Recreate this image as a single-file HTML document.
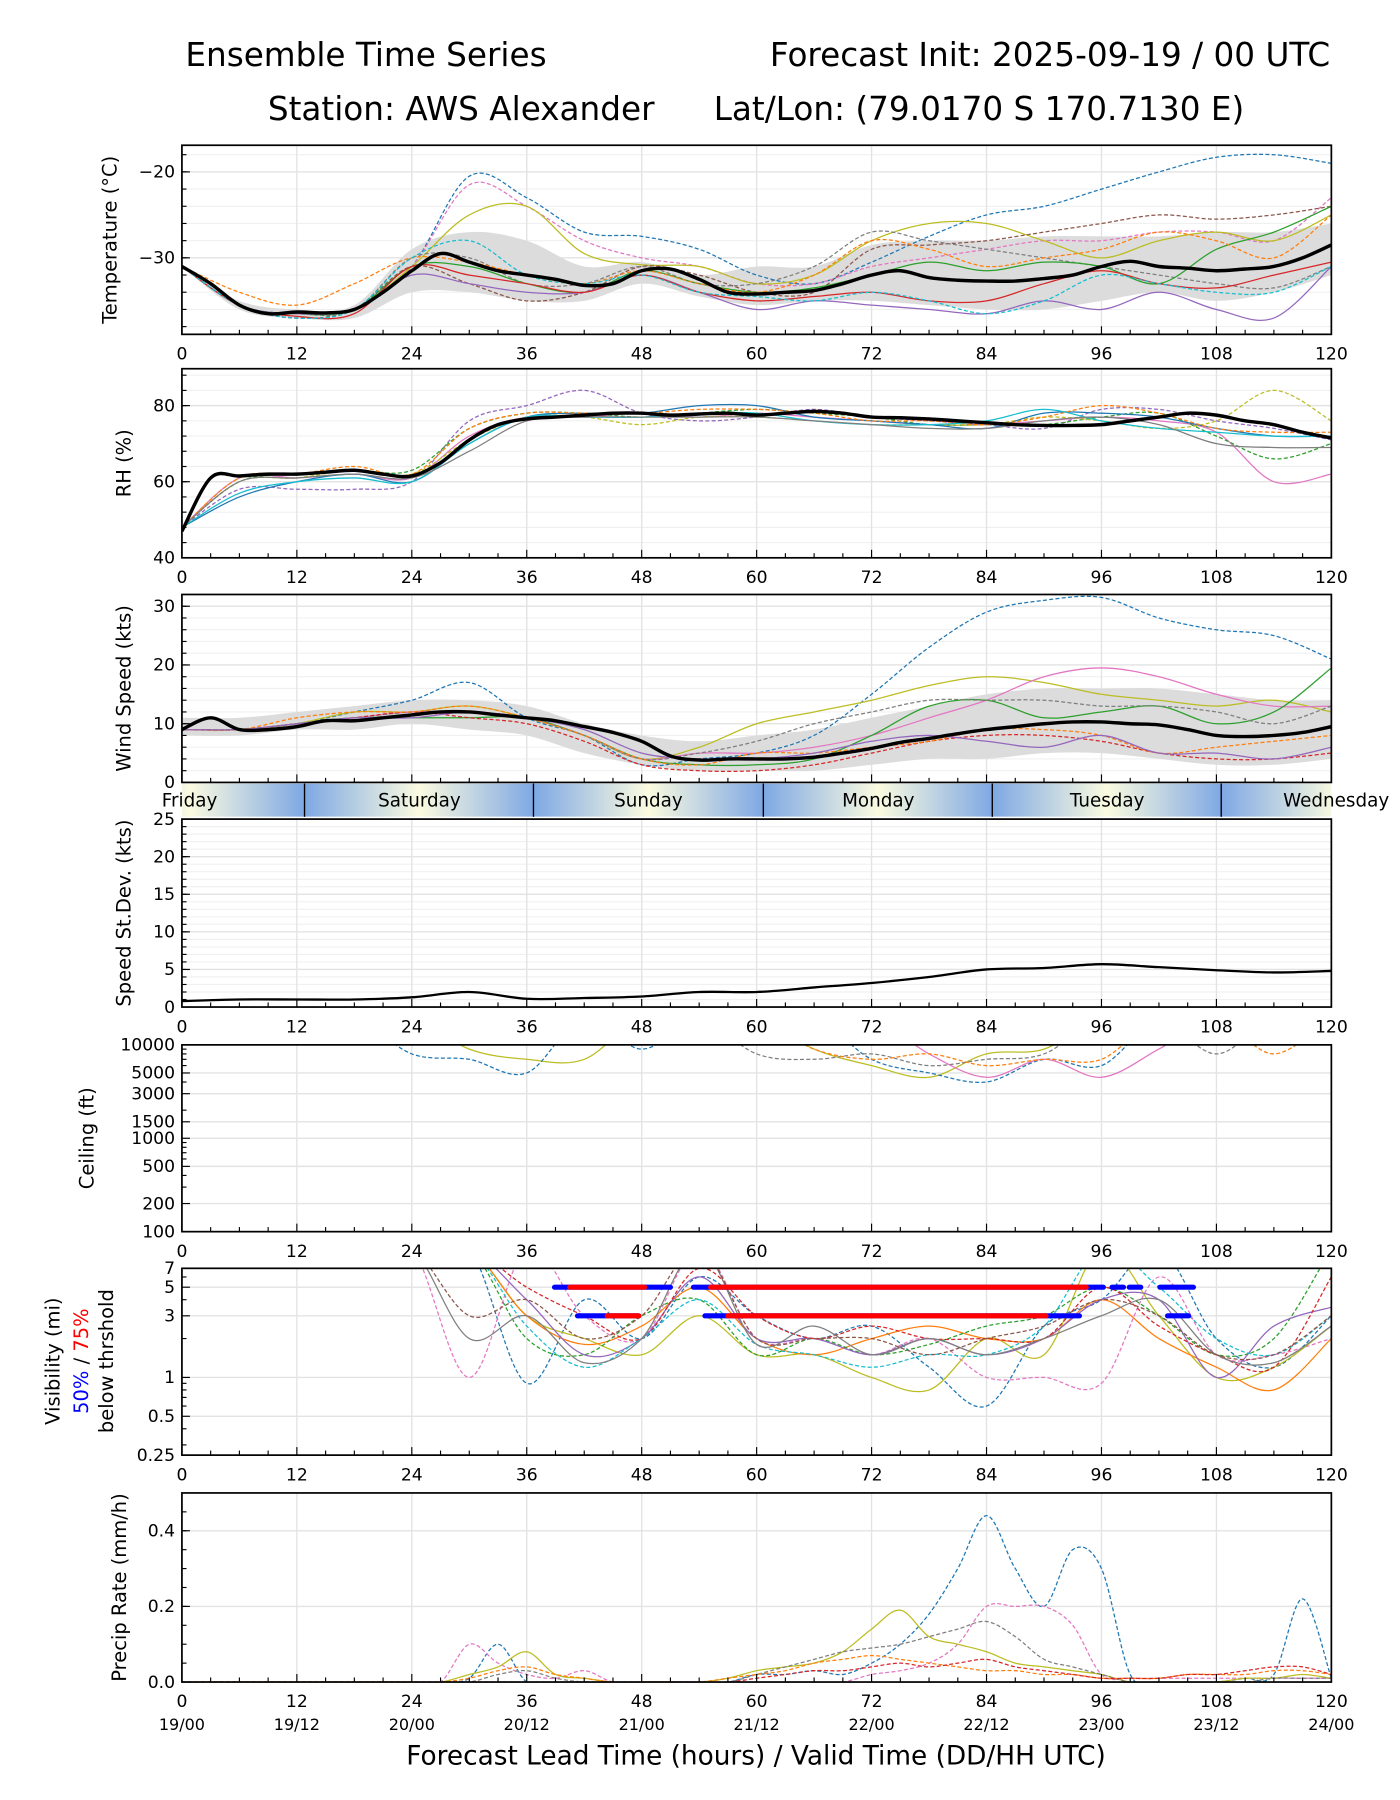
<!DOCTYPE html>
<html><head><meta charset="utf-8"><style>
html,body{margin:0;padding:0;background:#fff;}
svg{display:block;font-family:"DejaVu Sans","Liberation Sans",sans-serif;}
</style></head><body>
<svg id="chart" width="1400" height="1800" viewBox="0 0 1400 1800" xmlns="http://www.w3.org/2000/svg">
<defs>
<linearGradient id="dayg" x1="0" x2="1" y1="0" y2="0">
<stop offset="0" stop-color="#7ea8e4"/><stop offset="0.5" stop-color="#fbfbe0"/><stop offset="1" stop-color="#7ea8e4"/>
</linearGradient>
</defs>
<g id="root" transform="translate(2,2) scale(1.146)"></g>
</svg>
<script>
// ---------- DATA ----------
const hours3 = Array.from({length:41},(_,i)=>i*3);
const hours6 = Array.from({length:21},(_,i)=>i*6);
const xTicks = [0,12,24,36,48,60,72,84,96,108,120];
const dateLabels = ["19/00","19/12","20/00","20/12","21/00","21/12","22/00","22/12","23/00","23/12","24/00"];
const dayNames = ["Friday","Saturday","Sunday","Monday","Tuesday","Wednesday"];
const dayBoundaries = [12.8,36.7,60.7,84.6,108.5];

const tempMean = [-31,-33,-35.5,-36.5,-36.3,-36.4,-36,-34,-31.5,-29.5,-30.5,-31.5,-32,-32.5,-33.2,-33,-31.5,-31.3,-32.5,-34,-34.2,-34,-33.8,-33,-32,-31.5,-32.3,-32.6,-32.7,-32.7,-32.4,-32,-31,-30.4,-31,-31.2,-31.5,-31.3,-31,-30,-28.5];
const tempHi = [-31,-35,-36,-35.5,-29,-27,-28,-31,-30.5,-32,-31,-31,-28.5,-28,-28,-27.5,-27.5,-27.5,-27,-27,-26];
const tempLo = [-31,-36,-37,-37,-34,-34,-35,-35,-33,-34.5,-35.5,-35,-35,-35.5,-36,-36,-35,-34,-35,-34,-32];
const tempBlue = [-31,-35.5,-37,-36,-31,-20.5,-23,-27,-27.5,-29,-32,-33,-30.5,-27.5,-25,-24,-22,-20,-18.3,-18,-19];
const tempPink = [-31,-35.5,-37,-36,-31,-21.5,-24,-28,-30,-31,-33,-33,-31,-30,-29,-28,-28,-27,-27,-28,-23];
const tempOlive = [-31,-35.5,-36.5,-36,-31,-25,-24,-29.5,-30.8,-31,-33,-32,-28,-26,-26,-28,-30,-28,-27,-28,-25];
const tempBrown = [-31,-35.5,-37,-36,-31,-33,-35,-34,-31,-32,-34,-34,-29,-28.5,-28,-27,-26,-25,-25.5,-25,-24];
const tempGray = [-31,-35.5,-36.5,-36,-30,-30,-33,-33,-31,-33,-33,-31,-27,-28,-29,-30,-31,-32,-33,-33.5,-31];
const tempGreen = [-31,-35.5,-36.5,-36,-31,-31,-33,-34,-31.5,-33,-34,-33.5,-32,-30.5,-31.5,-30.5,-31,-33,-29,-27,-24];
const tempPurple = [-31,-35.5,-36.5,-36,-32,-33,-34,-34,-32,-34,-36,-35,-35.5,-36,-36.5,-35,-36,-34,-36,-37,-31];
const tempRed = [-31,-35.5,-36.8,-36.5,-31,-32,-33,-34,-32,-34,-35,-34.5,-34,-35,-35,-33,-31.5,-33,-33.5,-32,-30.5];
const tempOrange = [-31,-34,-35.5,-33,-30,-30.5,-32,-33,-31.5,-33,-34,-32,-28,-29,-31,-30,-29,-27,-28,-30,-25];
const tempCyan = [-31,-35.5,-37,-36,-30,-28,-32,-33,-32,-34,-34.5,-35,-34,-35,-36.5,-35,-32,-33,-34,-34,-31];

const rhMean = [47,61,61.5,62,62,62.5,63,62,61.5,65,71,75,76.5,77,77.5,78,78,77.5,77.8,78,77.5,78,78.5,78,77,76.8,76.5,76,75.5,75,74.8,74.8,75,76,77,78,77.5,76,75,73,71.5];
const rhPink = [48,61,61,62,61,72,77,77,78,77,78,77,76,75,75,76,77,76,73,60,62];
const rhPurple = [48,58,58,58,60,76,80,84,78,76,77,79,77,76,75,74,79,79,76,74,71];
const rhGreen = [48,60,62,63,63,74,78,78,77,78,79,78,77,75,75,75,77,78,72,66,70];
const rhOlive = [48,60,61,63,62,71,77,77,75,77,77,76,75,75,75,77,76,74,76,84,76];
const rhBlue = [48,56,60,62,60,70,77,78,78,80,80,77,76,75,74,78,78,77,74,72,72];
const rhOrange = [48,61,62,64,62,74,78,78,78,79,79,78,76,76,75,77,80,78,74,73,73];
const rhCyan = [48,57,60,61,60,70,77,77,77,78,78,76,75,75,76,79,76,74,73,72,72];
const rhGray = [48,60,61,62,61,68,76,77,77,77,77,76,75,74,74,76,77,75,70,69,69];

const windMean = [9,11,9,9,9.5,10.5,10.5,11,11.5,12,12,11.5,11,10.5,9.5,8.5,7,4.5,3.8,4,4,4,4.3,5,5.8,6.8,7.5,8.3,9,9.5,10,10.3,10.3,10,9.8,9,8,7.8,8,8.5,9.5];
const windHi = [11,11,12,13,14,14,13,10,8,7,8,9,11,13,15,16,16,16,15,14,14];
const windLo = [8,8,9,9,10,9,8,5,3,2,2,2,3,4,4,5,5,4,3,3,4];
const windBlue = [9,9,10,12,14,17,11,8,3,4,5,8,15,23,29,31,31.5,28,26,25,21];
const windOlive = [9,9,10,12,12,13,11,8,4,6,10,12,14,16.5,18,17,15,14,13,14,12];
const windPink = [9,9,10,11,12,12,11,8,4,5,5,6,8,11,14,18,19.5,18,15,13,13];
const windGreen = [9,9,10,11,11,11,11,8,4,3,3,4,8,13,14,11,12,13,10,12,19.5];
const windGray = [9,9,10,11,12,12,11,8,4,5,7,10,12,14,14,14,13,13,12,10,13];
const windRed = [9,9,10,11,12,11,10,7,3,2,2,3,5,7,8,8,7,5,4,4,5];
const windOrange = [9,9,11,12,12,13,11,8,4,3,5,5,6,7,9,9,8,5,6,7,8];
const windPurple = [9,9,10,11,11,12,11,9,5,4,4,5,7,8,7,6,8,5,5,4,6];

const stdDev = [0.8,1.0,1.0,1.0,1.3,2.0,1.1,1.2,1.4,2.0,2.0,2.6,3.2,4.0,5.0,5.2,5.7,5.3,4.9,4.6,4.8];

const ceilOlive = [20000,20000,20000,20000,20000,9000,7000,7000,20000,20000,20000,9000,6000,4500,8000,9000,20000,20000,20000,20000,20000];
const ceilBlue = [20000,20000,20000,20000,8000,7000,5000,20000,9000,20000,20000,20000,7000,5000,4000,7000,6000,20000,20000,20000,20000];
const ceilGray = [20000,20000,20000,20000,20000,20000,20000,20000,20000,20000,8000,7000,8000,6000,7000,8000,20000,20000,8000,20000,20000];
const ceilPink = [20000,20000,20000,20000,20000,20000,20000,20000,20000,20000,20000,20000,20000,8000,4500,7000,4500,9000,20000,20000,20000];
const ceilOrange = [20000,20000,20000,20000,20000,20000,20000,20000,20000,20000,20000,9000,7000,8000,6000,7000,7000,20000,20000,8000,20000];

const visBlue = [10,10,10,10,10,10,0.9,4,2,6,3,2,2.5,1.2,0.6,2.5,4,10,2,1.2,3];
const visPink = [10,10,10,10,10,1,10,3,2,10,2,2,1.5,2,1,1,0.9,6,1.5,1.5,2];
const visOlive = [10,10,10,10,10,10,3,2,1.5,3,1.5,1.5,1,0.8,2,1.5,10,3,1,1.2,2.5];
const visOrange = [10,10,10,10,10,10,3,1.8,2.5,5,2,1.5,2,2.5,2,2,4,2,1.2,0.8,2];
const visGreen = [10,10,10,10,10,10,2,1.5,3,4,1.5,2,1.5,1.8,2.5,3,5,3,1.5,2,10];
const visPurple = [10,10,10,10,10,10,4,1.5,2,6,2,2,1.5,2,1.5,2,4,4,1,2.5,3.5];
const visRed = [10,10,10,10,10,10,5,3,2,7,3,2,2.5,2,2,2,5,2.5,1.5,1.2,6];
const visCyan = [10,10,10,10,10,10,2.5,1.2,2,4,1.8,1.5,1.2,1.5,1.5,2.5,10,5,2,1.5,3];
const visGray = [10,10,10,10,10,2,3,1.3,2,10,1.8,2.5,1.5,2,1.5,2,3,4,1.5,1.3,2.5];
const visBrown = [10,10,10,10,10,3,4,2,3,10,2,2,2,1.5,2,2.5,4,3,1.5,1.5,3];
const thr50at5 = [[38.9,51.0],[53.4,96.2],[97.1,98.3],[98.9,100.1],[102.1,105.6]];
const thr75at5 = [[40.5,48.3],[55.2,94.4]];
const thr50at3 = [[41.3,47.7],[54.6,93.7],[102.9,105.1]];
const thr75at3 = [[44.4,47.7],[57,90.2]];

const precipBlue = [0,0,0,0,0,0,0,0,0,0,0.01,0.1,0,0,0,0,0,0,0,0,0.02,0.02,0.03,0.02,0.05,0.1,0.18,0.3,0.44,0.3,0.2,0.35,0.3,0.02,0,0,0,0.01,0.02,0.22,0.01];
const precipPink = [0,0,0,0,0,0,0,0,0,0,0.1,0.05,0.02,0.01,0.03,0,0,0,0,0,0,0,0,0,0.02,0.03,0.05,0.1,0.2,0.2,0.2,0.15,0.02,0.01,0.01,0.01,0.01,0.01,0.01,0.01,0.01];
const precipOlive = [0,0,0,0,0,0,0,0,0,0,0.02,0.04,0.08,0.02,0.01,0,0,0,0,0.01,0.03,0.04,0.05,0.08,0.14,0.19,0.12,0.1,0.08,0.05,0.04,0.03,0.02,0,0,0,0,0.01,0.01,0.02,0.01];
const precipGray = [0,0,0,0,0,0,0,0,0,0,0,0.02,0.03,0.01,0,0,0,0,0,0,0.02,0.04,0.06,0.08,0.09,0.1,0.12,0.14,0.16,0.12,0.06,0.04,0.02,0,0,0,0,0,0.01,0.01,0.01];
const precipOrange = [0,0,0,0,0,0,0,0,0,0,0.01,0.03,0.04,0.02,0.01,0,0,0,0,0.01,0.02,0.03,0.05,0.06,0.07,0.06,0.05,0.04,0.03,0.03,0.02,0.02,0.01,0.01,0.01,0.02,0.02,0.02,0.03,0.03,0.02];
const precipRed = [0,0,0,0,0,0,0,0,0,0,0,0,0,0,0,0,0,0,0,0,0.01,0.02,0.03,0.03,0.04,0.05,0.04,0.05,0.06,0.04,0.03,0.02,0.01,0.01,0.01,0.02,0.02,0.03,0.04,0.04,0.02];

// ---------- RENDER ----------
const NS="http://www.w3.org/2000/svg";
const root=document.getElementById('root');
const X0=157,X1=1160;
const xs=h=>X0+(X1-X0)*h/120;
function el(tag,attrs,parent){const e=document.createElementNS(NS,tag);for(const k in attrs)e.setAttribute(k,attrs[k]);(parent||root).appendChild(e);return e;}
function smooth(pts){if(pts.length<2)return'';let d='M'+pts[0][0].toFixed(1)+','+pts[0][1].toFixed(1);
for(let i=0;i<pts.length-1;i++){const p0=pts[i-1]||pts[i],p1=pts[i],p2=pts[i+1],p3=pts[i+2]||p2;
const c1=[p1[0]+(p2[0]-p0[0])/6,p1[1]+(p2[1]-p0[1])/6],c2=[p2[0]-(p3[0]-p1[0])/6,p2[1]-(p3[1]-p1[1])/6];
d+='C'+c1[0].toFixed(1)+','+c1[1].toFixed(1)+' '+c2[0].toFixed(1)+','+c2[1].toFixed(1)+' '+p2[0].toFixed(1)+','+p2[1].toFixed(1);}return d;}
const C={blue:'#1f77b4',orange:'#ff7f0e',green:'#2ca02c',red:'#d62728',purple:'#9467bd',brown:'#8c564b',pink:'#e377c2',gray:'#7f7f7f',olive:'#bcbd22',cyan:'#17becf'};
let clipN=0;
function panel(o){
  const g=el('g',{});
  
  
  const ys=o.log?(v=>o.y1-(o.y1-o.y0)*(Math.log10(v)-Math.log10(o.min))/(Math.log10(o.max)-Math.log10(o.min))):(v=>o.y1-(o.y1-o.y0)*(v-o.min)/(o.max-o.min));
  (o.minorGrid||[]).forEach(v=>el('line',{x1:X0,x2:X1,y1:ys(v),y2:ys(v),stroke:'#f0f0f0','stroke-width':1},g));
  o.majors.forEach(v=>el('line',{x1:X0,x2:X1,y1:ys(v),y2:ys(v),stroke:'#e3e3e3','stroke-width':1.2},g));
  xTicks.forEach(h=>el('line',{x1:xs(h),x2:xs(h),y1:o.y0,y2:o.y1,stroke:'#e3e3e3','stroke-width':1.2},g));
  const id='clip'+(clipN++);
  const cp=el('clipPath',{id:id},g);el('rect',{x:X0,y:o.y0,width:X1-X0,height:o.y1-o.y0},cp);
  const dg=el('g',{'clip-path':'url(#'+id+')'},g);
  const plot=(hrs,vals,color,dash,w,name)=>{const p=el('path',{d:smooth(hrs.map((h,i)=>[xs(h),ys(vals[i])])),fill:'none',stroke:color,'stroke-width':w||1.1,'stroke-dasharray':dash?'3.5,2':'none'},dg);
    
    };
  if(o.band){const up=hours6.map((h,i)=>[xs(h),ys(o.band[0][i])]),lo=hours6.map((h,i)=>[xs(h),ys(o.band[1][i])]).reverse();
    const b=el('path',{d:smooth(up)+'L'+smooth(lo).slice(1)+'Z',fill:'#dcdcdc',stroke:'none'},dg);
    
    }
  (o.members||[]).forEach(m=>plot(m.h||hours6,m.v,C[m.c],m.d,m.w,'member-'+m.c));
  if(o.extra)o.extra(dg,ys);
  if(o.mean)plot(o.mean.h,o.mean.v,'#000',false,o.mean.w||3,o.meanName||'ensemble-mean');
  for(let h=0;h<=120;h+=3){const L=h%12===0?7:4;el('line',{x1:xs(h),x2:xs(h),y1:o.y1,y2:o.y1-L,stroke:'#000','stroke-width':1},g);}
  o.majors.forEach(v=>el('line',{x1:X0,x2:X0+7,y1:ys(v),y2:ys(v),stroke:'#000','stroke-width':1},g));
  (o.minorTicks||[]).forEach(v=>el('line',{x1:X0,x2:X0+4,y1:ys(v),y2:ys(v),stroke:'#000','stroke-width':1},g));
  el('rect',{x:X0,y:o.y0,width:X1-X0,height:o.y1-o.y0,fill:'none',stroke:'#000','stroke-width':1.5},g);
  (o.labels||o.majors).forEach((v,i)=>{const t=el('text',{x:X0-6,y:ys(v)+5,'text-anchor':'end','font-size':15},g);t.textContent=o.fmt?o.fmt(v):v;});
  if(o.xlabels!==false)xTicks.forEach(h=>{const t=el('text',{x:xs(h),y:o.y1+22,'text-anchor':'middle','font-size':15},g);t.textContent=h;});
  if(o.ylabel){const t=el('text',{transform:`translate(${o.ylx||100},${(o.y0+o.y1)/2}) rotate(-90)`,'text-anchor':'middle','font-size':17},g);t.textContent=o.ylabel;}
  return {g,ys};
}
const mk=(v,c,d)=>({v,c,d});
const txt=(x,y,s,fs,anchor,name)=>{const t=el('text',{x,y,'font-size':fs,'text-anchor':anchor||'start'});t.textContent=s;return t;};

txt(160,56,'Ensemble Time Series',28.5,'start','title-left');
txt(1159,56,'Forecast Init: 2025-09-19 / 00 UTC',28.5,'end','title-right');
txt(232,103,'Station: AWS Alexander',28.5,'start','title-station');
txt(1084,103,'Lat/Lon: (79.0170 S 170.7130 E)',28.5,'end','title-latlon');

const range=(a,b,s)=>{const r=[];for(let v=a;v<=b+1e-9;v+=s)r.push(+v.toFixed(3));return r;};

panel({name:'temperature-panel',y0:125,y1:290,min:-38.9,max:-16.9,majors:[-20,-30],minorGrid:range(-38,-18,2),minorTicks:range(-38,-18,2),
  fmt:v=>'\u2212'+Math.abs(v),ylabel:'Temperature (°C)',ylx:100,band:[tempHi,tempLo],
  members:[mk(tempBlue,'blue',1),mk(tempPink,'pink',1),mk(tempOlive,'olive',0),mk(tempBrown,'brown',1),mk(tempGray,'gray',1),mk(tempGreen,'green',0),mk(tempPurple,'purple',0),mk(tempRed,'red',0),mk(tempOrange,'orange',1),mk(tempCyan,'cyan',1)],
  mean:{h:hours3,v:tempMean}});
panel({name:'rh-panel',y0:320,y1:485,min:40,max:89.7,majors:[40,60,80],minorGrid:range(44,88,4),minorTicks:range(44,88,4),ylabel:'RH (%)',ylx:112,
  members:[mk(rhPink,'pink',0),mk(rhPurple,'purple',1),mk(rhGreen,'green',1),mk(rhOlive,'olive',1),mk(rhBlue,'blue',0),mk(rhOrange,'orange',1),mk(rhCyan,'cyan',0),mk(rhGray,'gray',0)],
  mean:{h:hours3,v:rhMean}});
panel({name:'wind-panel',y0:517,y1:681,min:0,max:32,majors:[0,10,20,30],minorGrid:range(2,30,2),minorTicks:range(2,30,2),ylabel:'Wind Speed (kts)',ylx:112,xlabels:false,band:[windHi,windLo],
  members:[mk(windBlue,'blue',1),mk(windOlive,'olive',0),mk(windPink,'pink',0),mk(windGreen,'green',0),mk(windGray,'gray',1),mk(windRed,'red',1),mk(windOrange,'orange',1),mk(windPurple,'purple',0)],
  mean:{h:hours3,v:windMean}});
panel({name:'speed-stddev-panel',y0:713,y1:877,min:0,max:25,majors:[0,5,10,15,20,25],minorGrid:range(1,24,1),minorTicks:range(1,24,1),ylabel:'Speed St.Dev. (kts)',ylx:112,
  mean:{h:hours6,v:stdDev,w:2},meanName:'stddev-line'});
panel({name:'ceiling-panel',y0:910,y1:1073,min:100,max:10000,log:true,majors:[100,200,500,1000,1500,3000,5000,10000],minorTicks:[300,400,600,700,800,900,2000,4000,6000,7000,8000,9000],ylabel:'Ceiling (ft)',ylx:80,
  members:[mk(ceilOlive,'olive',0),mk(ceilBlue,'blue',1),mk(ceilGray,'gray',1),mk(ceilPink,'pink',0),mk(ceilOrange,'orange',1)]});
panel({name:'visibility-panel',y0:1105,y1:1268,min:0.25,max:7,log:true,majors:[0.25,0.5,1,3,5,7],minorTicks:[0.3,0.4,0.6,0.7,0.8,0.9,2,4,6],
  members:[mk(visBlue,'blue',1),mk(visPink,'pink',1),mk(visOlive,'olive',0),mk(visOrange,'orange',0),mk(visGreen,'green',1),mk(visPurple,'purple',0),mk(visRed,'red',1),mk(visCyan,'cyan',1),mk(visGray,'gray',0),mk(visBrown,'brown',1)],
  extra:(g,ys)=>{
    const seg=(arr,v,col,name)=>arr.forEach(s=>{const l=el('line',{x1:xs(s[0]),x2:xs(s[1]),y1:ys(v),y2:ys(v),stroke:col,'stroke-width':4.5,'stroke-linecap':'round'},g);
      
      });
    seg(thr50at5,5,'#0000ff','threshold-50-5mi');seg(thr50at3,3,'#0000ff','threshold-50-3mi');
    seg(thr75at5,5,'#ff0000','threshold-75-5mi');seg(thr75at3,3,'#ff0000','threshold-75-3mi');
  }});
{const t=el('text',{transform:'translate(50,1186) rotate(-90)','text-anchor':'middle','font-size':17});t.textContent='Visibility (mi)';
 const t2=el('text',{transform:'translate(75,1186) rotate(-90)','text-anchor':'middle','font-size':17});
 const a=el('tspan',{fill:'#0000ff'},t2);a.textContent='50%';const b=el('tspan',{},t2);b.textContent=' / ';const c=el('tspan',{fill:'#ff0000'},t2);c.textContent='75%';
 const t3=el('text',{transform:'translate(97,1186) rotate(-90)','text-anchor':'middle','font-size':17});t3.textContent='below thrshold';}
panel({name:'precip-panel',y0:1301,y1:1466,min:0,max:0.5,majors:[0,0.2,0.4],minorTicks:range(0.05,0.45,0.05),fmt:v=>v.toFixed(1),ylabel:'Precip Rate (mm/h)',ylx:108,
  members:[{h:hours3,v:precipBlue,c:'blue',d:1},{h:hours3,v:precipPink,c:'pink',d:1},{h:hours3,v:precipOlive,c:'olive',d:0},{h:hours3,v:precipGray,c:'gray',d:1},{h:hours3,v:precipOrange,c:'orange',d:1},{h:hours3,v:precipRed,c:'red',d:1}]});
dateLabels.forEach((s,i)=>{const t=el('text',{x:xs(xTicks[i]),y:1508,'text-anchor':'middle','font-size':14});t.textContent=s;});
txt(658,1538,'Forecast Lead Time (hours) / Valid Time (DD/HH UTC)',23,'middle','x-axis-title');

{const g=el('g',{});
 const cp=el('clipPath',{id:'dayclip'},g);el('rect',{x:X0,y:682,width:X1-X0,height:29},cp);
 const bg=el('g',{'clip-path':'url(#dayclip)'},g);
 const starts=[dayBoundaries[0]-24].concat(dayBoundaries);
 starts.forEach((s,i)=>{el('rect',{x:xs(s),y:682,width:xs(s+24)-xs(s),height:29,fill:'url(#dayg)'},bg);});
 dayBoundaries.forEach(b=>el('line',{x1:xs(b),x2:xs(b),y1:682,y2:711,stroke:'#000','stroke-width':1.2},g));
 starts.forEach((s,i)=>{const t=el('text',{x:xs(s+12),y:702,'text-anchor':'middle','font-size':16},g);t.textContent=dayNames[i];});
}
</script>
</body></html>
